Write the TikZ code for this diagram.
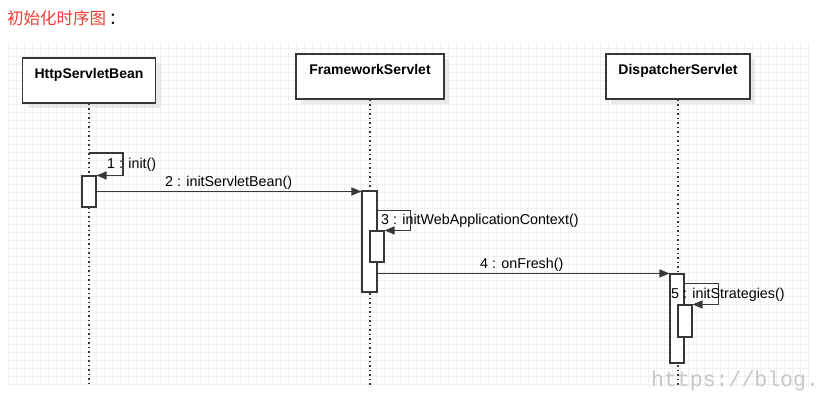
\documentclass[tikz,border=0pt]{standalone}
\usepackage{fontspec}
\setmainfont{Liberation Sans}
\newfontfamily\cjkfont{Noto Sans CJK SC}
\newfontfamily\markfont{Liberation Mono}
\usetikzlibrary{arrows.meta,shapes,calc,shadows}
\definecolor{titlered}{RGB}{236,62,52}
\definecolor{umlline}{RGB}{55,55,55}

\begin{document}
\begin{tikzpicture}[x=1pt,y=-1pt]
    \tikzset{objbox/.style = {shape=rectangle,draw=umlline,fill=white,line width=1.3pt,minimum height=45pt,text height=10pt,text depth=15pt,font=\fontsize{14}{16}\selectfont\bfseries,drop shadow={shadow xshift=5pt,shadow yshift=-5pt,fill=black!15}}}
    \tikzset{act/.style = {shape=rectangle,draw=umlline,fill=white,line width=1.1pt,minimum width=14pt,inner sep=0pt}}
    \tikzset{lifeline/.style = {draw=umlline,line width=1.4pt,dash pattern=on 1.5pt off 3pt}}
    \tikzset{msg/.style = {draw=umlline,line width=1.3pt,-{Triangle[length=10pt,width=8pt]}}}
    \tikzset{lbl/.style = {anchor=west,inner sep=0pt,font=\fontsize{14.3}{16}\selectfont}}
    \useasboundingbox (0,0) rectangle (825,413);
    
    % background
    \fill[white] (0,0) rectangle (825,413);
    \draw[black!6,line width=0.4pt,step=8pt] (8,43) grid (810,387);
    \node[anchor=west,inner sep=0pt,font=\cjkfont\fontsize{16.5}{18}\selectfont,text=titlered] (title) at (7,18) {初始化时序图\,\textcolor{black}{：}};
    
    % objects and lifelines
    \foreach \name/\x/\y/\w/\txt in {http/89/80.5/133/HttpServletBean,fw/370/76.5/148/FrameworkServlet,disp/678/76.5/144/DispatcherServlet}
    {
      \node[objbox,minimum width=\w pt] (\name) at (\x,\y) {\txt};
      \coordinate (\name-end) at (\x,386);
      \draw[lifeline] (\name) -- (\name-end);
    }
    
    % activations
    \node[act,minimum height=31pt] (a1) at (89,191.5) {};
    \node[act,minimum height=101pt,minimum width=15pt] (a2) at (369.5,241.5) {};
    \node[act,minimum height=31pt] (a3) at (377,246.5) {};
    \node[act,minimum height=89pt] (a4) at (677,318.5) {};
    \node[act,minimum height=32pt] (a5) at (685,321) {};
    
    % messages
    \coordinate (s1) at (89,153);
    \draw[msg] (s1) -- ++(34,0) |- (a1.north east);
    \draw[msg] (a1.east) -- (a1.east -| a2.west);
    \draw[msg] ($(a2.north east)+(0,20)$) -- ++(33,0) |- (a3.north east);
    \draw[msg] (a4.north west -| a2.east) -- (a4.north west);
    \draw[msg] ($(a4.north east)+(0,10)$) -- ++(34,0) |- (a5.north east);
    
    % labels
    \node[lbl] (l1) at (107,165) {1 : init()};
    \node[lbl] (l2) at (165,183) {2 : initServletBean()};
    \node[lbl] (l3) at (381,221) {3 : initWebApplicationContext()};
    \node[lbl] (l4) at (480,265) {4 : onFresh()};
    \node[lbl] (l5) at (671,295) {5 : initStrategies()};
    
    \node[anchor=base west,inner sep=0pt,font=\markfont\fontsize{21.5}{24}\selectfont,text=black!22] (mark) at (651,386) {https://blog.};
  \end{tikzpicture}
\end{document}
